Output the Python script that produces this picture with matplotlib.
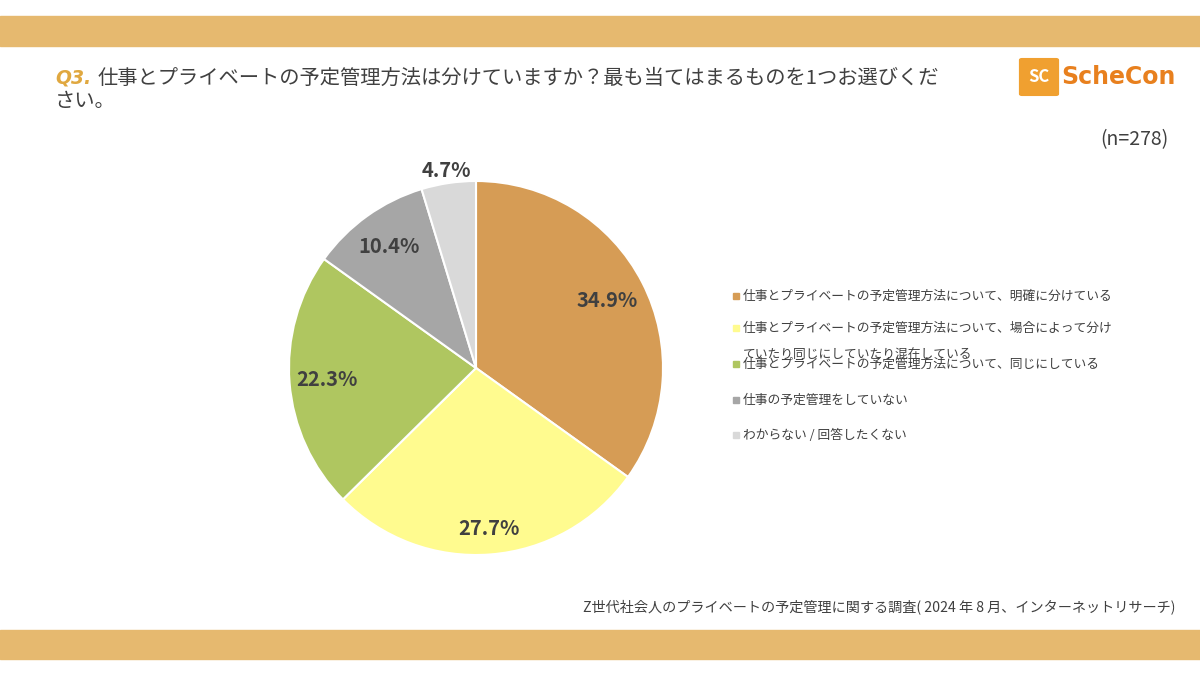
import matplotlib
matplotlib.use("Agg")
import matplotlib.pyplot as plt
import matplotlib.patches as mpatches
import numpy as np

plt.rcParams['font.family'] = ['Noto Sans CJK JP', 'DejaVu Sans']

# data
categories = [
    "仕事とプライベートの予定管理方法について、明確に分けている",
    "仕事とプライベートの予定管理方法について、場合によって分け\nていたり同じにしていたり混在している",
    "仕事とプライベートの予定管理方法について、同じにしている",
    "仕事の予定管理をしていない",
    "わからない / 回答したくない",
]
values = [34.9, 27.7, 22.3, 10.4, 4.7]
colors = ["#D69C55", "#FFFB8F", "#AFC660", "#A6A6A6", "#D9D9D9"]
label_r = [0.79, 0.86, 0.80, 0.80, 1.07]

W, H = 1200, 674
fig = plt.figure(figsize=(W / 100, H / 100), dpi=100)
fig.patch.set_facecolor("white")

def px(x, y):
    return x / W, 1 - y / H

# top / bottom bands
fig.patches.append(mpatches.Rectangle(px(0, 46), 1, 30 / H, transform=fig.transFigure,
                                      color="#E6B96F", zorder=0))
fig.patches.append(mpatches.Rectangle(px(0, 659), 1, 29 / H, transform=fig.transFigure,
                                      color="#E6B96F", zorder=0))

# title
fig.text(*px(55, 78), "Q3.", fontsize=13.5, color="#E0A840", fontweight="bold",
         style="italic", va="center", ha="left", family=['DejaVu Sans'])
fig.text(*px(98, 78), "仕事とプライベートの予定管理方法は分けていますか？最も当てはまるものを1つお選びくだ",
         fontsize=14.6, color="#404040", va="center", ha="left")
fig.text(*px(55, 102), "さい。", fontsize=14.6, color="#404040", va="center", ha="left")

# logo
fig.patches.append(mpatches.FancyBboxPatch(px(1022, 94), 34 / W, 34 / H,
                                           boxstyle="round,pad=0.002", transform=fig.transFigure,
                                           color="#F0A030", zorder=1))
fig.text(*px(1039, 77), "SC", fontsize=12, color="white", fontweight="bold",
         va="center", ha="center", zorder=2)
fig.text(*px(1061, 77), "ScheCon", fontsize=17, color="#E8801E", fontweight="bold",
         va="center", ha="left", family=['DejaVu Sans'])

fig.text(*px(1168, 140), "(n=278)", fontsize=14, color="#404040", va="center", ha="right")

# pie
cx, cy, r = 476, 368, 187
ax = fig.add_axes([(cx - r) / W, 1 - (cy + r) / H, 2 * r / W, 2 * r / H])
wedges, _ = ax.pie(values, colors=colors, startangle=90, counterclock=False,
                   radius=1, wedgeprops=dict(edgecolor="white", linewidth=1.5))
ax.set_xlim(-1, 1)
ax.set_ylim(-1, 1)
ax.set_aspect("equal")
ax.axis("off")

for w, v, lr in zip(wedges, values, label_r):
    ang = np.deg2rad((w.theta1 + w.theta2) / 2)
    ax.text(lr * np.cos(ang), lr * np.sin(ang), f"{v}%", fontsize=14.5, fontweight="bold",
            color="#404040", ha="center", va="center", clip_on=False)

# legend (placed like the original, second label wraps into the next one)
leg_y = [296, 328, 364, 400, 435]
for lab, c, y in zip(categories, colors, leg_y):
    fig.patches.append(mpatches.Rectangle(px(733, y + 3), 6 / W, 6 / H,
                                          transform=fig.transFigure, color=c))
    lines = lab.split("\n")
    fig.text(*px(743, y), lines[0], fontsize=9.2, color="#404040", va="center", ha="left")
    if len(lines) > 1:
        fig.text(*px(743, y + 26), lines[1], fontsize=9.2, color="#404040",
                 va="center", ha="left")

fig.text(*px(1175, 607), "Z世代社会人のプライベートの予定管理に関する調査( 2024 年 8 月、インターネットリサーチ)",
         fontsize=10.2, color="#404040", va="center", ha="right")

fig.savefig("out.png", dpi=100)
